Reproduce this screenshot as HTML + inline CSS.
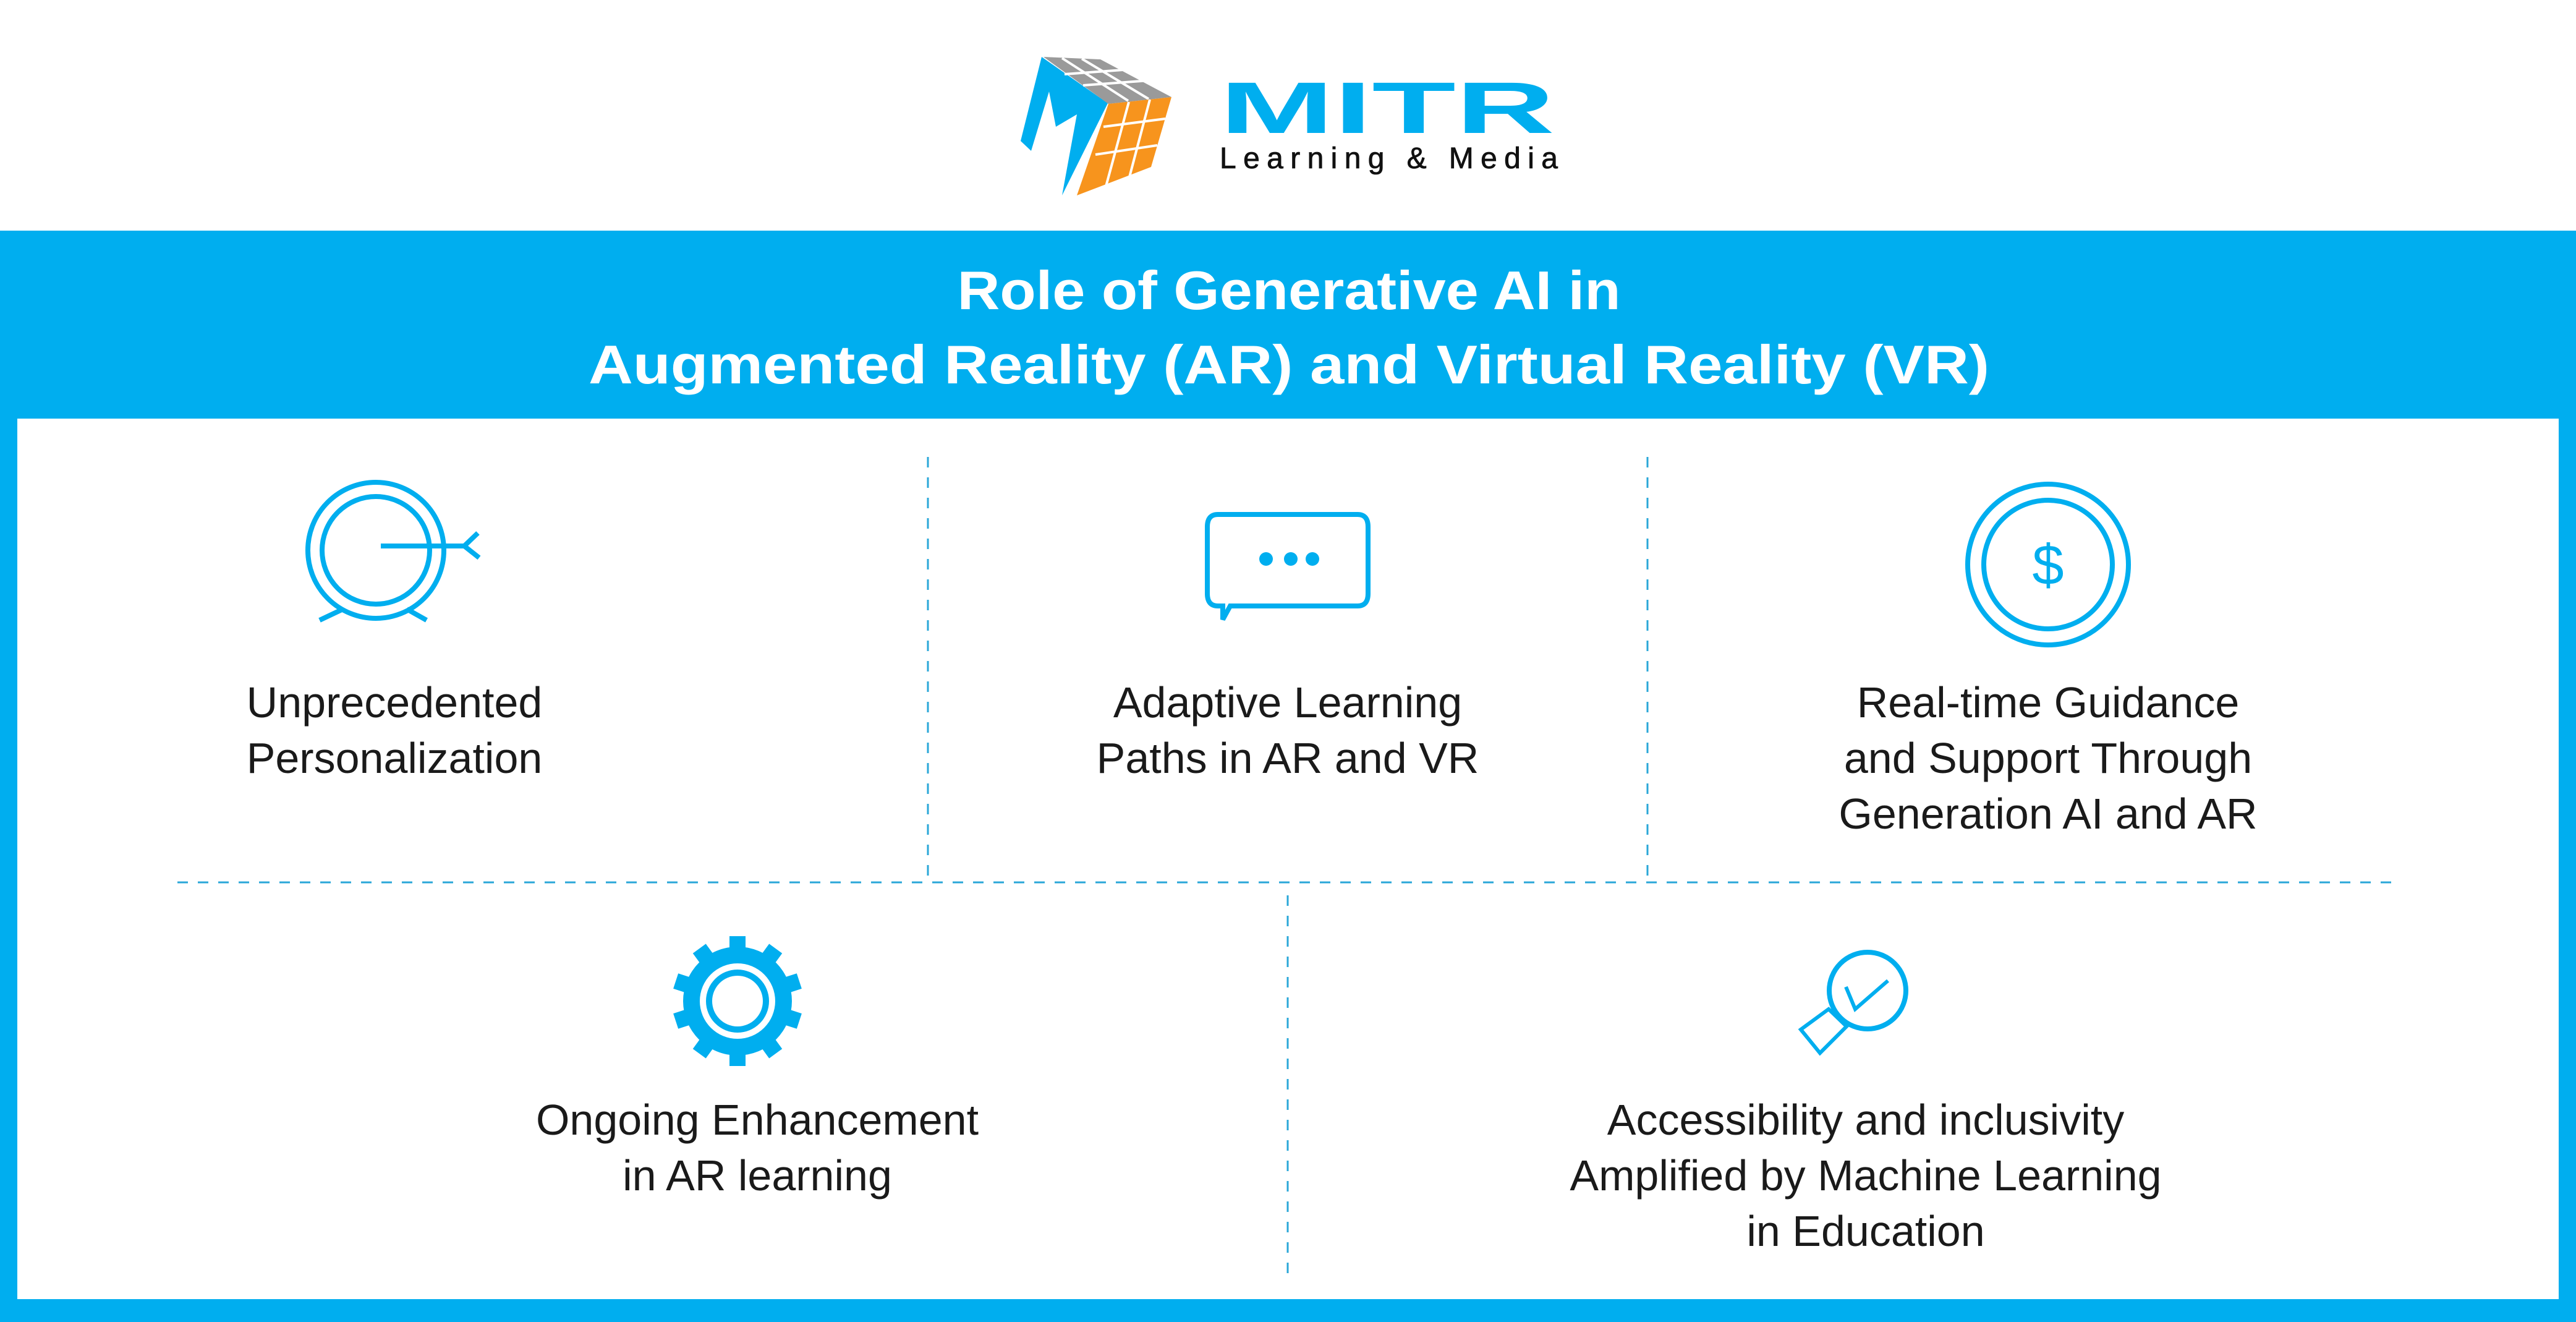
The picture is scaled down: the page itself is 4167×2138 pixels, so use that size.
<!DOCTYPE html>
<html><head><meta charset="utf-8"><style>
html,body{margin:0;padding:0;background:#fff}
svg{display:block}
</style></head><body>
<svg width="4167" height="2138" viewBox="0 0 4167 2138" xmlns="http://www.w3.org/2000/svg">
<rect x="0" y="0" width="4167" height="2138" fill="#fff"/>
<rect x="0" y="373" width="4167" height="1765" fill="#00AEEF"/>
<rect x="28" y="677" width="4111" height="1424" fill="#fff"/>

<polygon points="1685,92 1651,228 1668,244 1697,148 1708,205 1742,185 1718,316 1792,167" fill="#00AEEF"/>
<polygon points="1688,92 1780,96 1895,157 1793,168" fill="#9a9a9a"/>
<g stroke="#fff" stroke-width="4">
<line x1="1718" y1="94" x2="1825" y2="163"/><line x1="1750" y1="95" x2="1858" y2="160"/>
<line x1="1722" y1="120" x2="1830" y2="112"/><line x1="1752" y1="138" x2="1860" y2="130"/>
</g>
<polygon points="1793,168 1895,157 1862,270 1742,316" fill="#F7941D"/>
<g stroke="#fff" stroke-width="4">
<line x1="1826" y1="165" x2="1788" y2="305"/><line x1="1860" y1="161" x2="1826" y2="290"/>
<line x1="1785" y1="205" x2="1885" y2="192"/><line x1="1772" y1="250" x2="1872" y2="235"/>
</g>
<text x="1973" y="215" font-family="Liberation Sans, sans-serif" font-weight="bold" font-size="118" fill="#00AEEF" textLength="542" lengthAdjust="spacingAndGlyphs">MITR</text>
<text x="1973" y="272" font-family="Liberation Sans, sans-serif" font-size="48" fill="#111" stroke="#111" stroke-width="0.8" textLength="547" lengthAdjust="spacing">Learning &amp; Media</text>

<g font-family="Liberation Sans, sans-serif" font-weight="bold" fill="#fff" font-size="88">
<text x="2085" y="500" text-anchor="middle" textLength="1073" lengthAdjust="spacingAndGlyphs">Role of Generative AI in</text>
<text x="2085" y="620" text-anchor="middle" textLength="2266" lengthAdjust="spacingAndGlyphs">Augmented Reality (AR) and Virtual Reality (VR)</text>
</g>

<g stroke="#2aa7d8" stroke-width="3" stroke-dasharray="17 16" fill="none">
<line x1="1501" y1="739" x2="1501" y2="1422"/>
<line x1="2665" y1="739" x2="2665" y2="1422"/>
<line x1="287" y1="1427" x2="3879" y2="1427"/>
<line x1="2083" y1="1448" x2="2083" y2="2072"/>
</g>

<g stroke="#00AEEF" stroke-width="8" fill="none">
<circle cx="608" cy="890" r="110"/>
<circle cx="608" cy="890" r="87"/>
<line x1="616" y1="883" x2="753" y2="883"/>
<line x1="751" y1="883" x2="773" y2="862"/>
<line x1="751" y1="883" x2="775" y2="902"/>
<line x1="555" y1="985" x2="517" y2="1003"/>
<line x1="658" y1="985" x2="690" y2="1003"/>
<path d="M1978,980 L1978,1002 L1990,980 L2196,980 Q2213,980 2213,960 L2213,852 Q2213,832 2196,832 L1970,832 Q1953,832 1953,852 L1953,960 Q1953,980 1970,980 Z"/>
<circle cx="3313" cy="913" r="130"/>
<circle cx="3313" cy="913" r="104"/>
<circle cx="3021" cy="1602" r="62"/>
<polyline points="2986,1596 3001,1632 3054,1586" stroke-width="6"/>
<polygon points="2958,1632 2913,1665 2944,1703 2987,1660" stroke-width="6"/>
</g>
<g fill="#00AEEF">
<circle cx="2048" cy="904" r="11"/><circle cx="2088" cy="904" r="11"/><circle cx="2123" cy="904" r="11"/>
</g>
<text x="3313" y="945" text-anchor="middle" font-family="Liberation Sans, sans-serif" font-size="92" fill="#00AEEF">$</text>
<g transform="translate(1193,1619)">
<g fill="#00AEEF">
<circle r="88"/>
<rect x="-13" y="-105" width="26" height="30"/>
<rect x="-13" y="-105" width="26" height="30" transform="rotate(36)"/>
<rect x="-13" y="-105" width="26" height="30" transform="rotate(72)"/>
<rect x="-13" y="-105" width="26" height="30" transform="rotate(108)"/>
<rect x="-13" y="-105" width="26" height="30" transform="rotate(144)"/>
<rect x="-13" y="-105" width="26" height="30" transform="rotate(180)"/>
<rect x="-13" y="-105" width="26" height="30" transform="rotate(216)"/>
<rect x="-13" y="-105" width="26" height="30" transform="rotate(252)"/>
<rect x="-13" y="-105" width="26" height="30" transform="rotate(288)"/>
<rect x="-13" y="-105" width="26" height="30" transform="rotate(324)"/>
</g>
<circle r="61" fill="#fff"/>
<circle r="51" fill="#00AEEF"/>
<circle r="41" fill="#fff"/>
</g>

<g font-family="Liberation Sans, sans-serif" font-size="70" fill="#1a1a1a" text-anchor="middle">
<text x="638" y="1160">Unprecedented</text>
<text x="638" y="1250">Personalization</text>
<text x="2083" y="1160">Adaptive Learning</text>
<text x="2083" y="1250">Paths in AR and VR</text>
<text x="3313" y="1160">Real-time Guidance</text>
<text x="3313" y="1250">and Support Through</text>
<text x="3313" y="1340">Generation AI and AR</text>
<text x="1225" y="1835">Ongoing Enhancement</text>
<text x="1225" y="1925">in AR learning</text>
<text x="3018" y="1835">Accessibility and inclusivity</text>
<text x="3018" y="1925">Amplified by Machine Learning</text>
<text x="3018" y="2015">in Education</text>
</g>
</svg>
</body></html>
